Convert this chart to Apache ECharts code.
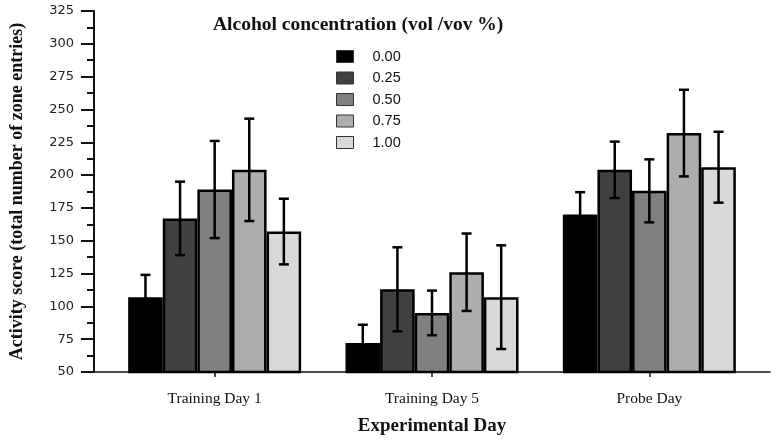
<!DOCTYPE html>
<html><head><meta charset="utf-8">
<script src="https://cdn.jsdelivr.net/npm/echarts@6/dist/echarts.min.js"></script>
<style>html,body{margin:0;padding:0;background:#fff}#c{width:776px;height:444px}</style>
</head><body><div id="c"></div>
<script>
const categories = ['Training Day 1', 'Training Day 5', 'Probe Day'];
const concentrations = ['0.00', '0.25', '0.50', '0.75', '1.00'];
const colors = ['#000000', '#404040', '#808080', '#adadad', '#d9d9d9'];
const means_000 = [107, 72, 170];
const means_025 = [167, 113, 204];
const means_050 = [189, 95, 188];
const means_075 = [204, 126, 232];
const means_100 = [157, 107, 206];
const err_000 = [17, 14, 17];
const err_025 = [28, 32, 21.5];
const err_050 = [37, 17, 24];
const err_075 = [39, 29.5, 33];
const err_100 = [25, 39.5, 27];
const yTicks = [50, 325, 25];

const means = [means_000, means_025, means_050, means_075, means_100];
const errs = [err_000, err_025, err_050, err_075, err_100];
const BW = 34.6;
const serif = 'Liberation Serif';

const series = [];
means.forEach((m, k) => {
  series.push({
    name: concentrations[k], type: 'bar', xAxisIndex: 0, yAxisIndex: 0,
    data: m, barWidth: BW, barGap: '0%',
    itemStyle: {color: colors[k], borderColor: '#000', borderWidth: 2.5},
    z: 2, silent: true
  });
});
means.forEach((m, k) => {
  const data = m.map((v, i) => [i, v - errs[k][i], v + errs[k][i]]);
  series.push({
    type: 'custom', xAxisIndex: 0, yAxisIndex: 0, z: 5, silent: true,
    data: data,
    renderItem: function (params, api) {
      const ci = api.value(0);
      const pHi = api.coord([ci, api.value(2)]);
      const pLo = api.coord([ci, api.value(1)]);
      const x = pHi[0] + (k - 2) * BW;
      const cap = 5;
      const st = {stroke: '#000', lineWidth: 2.5};
      return {type: 'group', children: [
        {type: 'line', shape: {x1: x, y1: pHi[1], x2: x, y2: pLo[1]}, style: st},
        {type: 'line', shape: {x1: x - cap, y1: pHi[1], x2: x + cap, y2: pHi[1]}, style: st},
        {type: 'line', shape: {x1: x - cap, y1: pLo[1], x2: x + cap, y2: pLo[1]}, style: st}
      ]};
    }
  });
});

const chart = echarts.init(document.getElementById('c'), null, {renderer: 'canvas'});
chart.setOption({
  animation: false,
  backgroundColor: '#fff',
  title: {
    text: 'Alcohol concentration (vol /vov %)', left: 208, top: 10,
    textStyle: {fontFamily: serif, fontWeight: 'bold', fontSize: 19.5, color: '#111'}
  },
  legend: {
    orient: 'vertical', left: 331, top: 44, itemWidth: 17, itemHeight: 12, itemGap: 6.5,
    icon: 'rect',
    data: concentrations,
    itemStyle: {borderColor: '#333', borderWidth: 1},
    textStyle: {fontFamily: 'Liberation Sans', fontSize: 14.5, color: '#111', padding: [0, 0, 0, 14]}
  },
  grid: [
    {left: 105, right: 18, top: 11, bottom: 72},
    {left: 93, right: 6, top: 11, bottom: 72}
  ],
  xAxis: [
    {
      type: 'category', gridIndex: 0, data: categories,
      name: 'Experimental Day', nameLocation: 'middle', nameGap: 45,
      nameTextStyle: {fontFamily: serif, fontWeight: 'bold', fontSize: 19, color: '#111'},
      axisLine: {show: false},
      axisTick: {show: true, alignWithLabel: true, length: 5, lineStyle: {color: '#111', width: 1.5}},
      axisLabel: {fontFamily: serif, fontSize: 15.5, color: '#111', margin: 19},
      splitLine: {show: false}
    },
    {
      type: 'value', gridIndex: 1, min: 0, max: 1,
      axisLine: {show: true, lineStyle: {color: '#111', width: 1.5}},
      axisTick: {show: false}, axisLabel: {show: false}, splitLine: {show: false}
    }
  ],
  yAxis: [
    {
      type: 'value', gridIndex: 0, min: yTicks[0], max: yTicks[1], interval: yTicks[2],
      offset: 12,
      name: 'Activity score (total number of zone entries)', nameLocation: 'middle', nameGap: 68,
      nameTextStyle: {fontFamily: serif, fontWeight: 'bold', fontSize: 18, color: '#111'},
      axisLine: {show: true, lineStyle: {color: '#111', width: 2}},
      axisTick: {show: true, length: 13, lineStyle: {color: '#111', width: 2}},
      minorTick: {show: true, splitNumber: 2, length: 7, lineStyle: {color: '#111', width: 2}},
      axisLabel: {fontFamily: 'DejaVu Sans', fontSize: 13, color: '#222', margin: 20},
      splitLine: {show: false}
    },
    {type: 'value', gridIndex: 1, show: false, min: 0, max: 1}
  ],
  series: series
});
</script></body></html>
